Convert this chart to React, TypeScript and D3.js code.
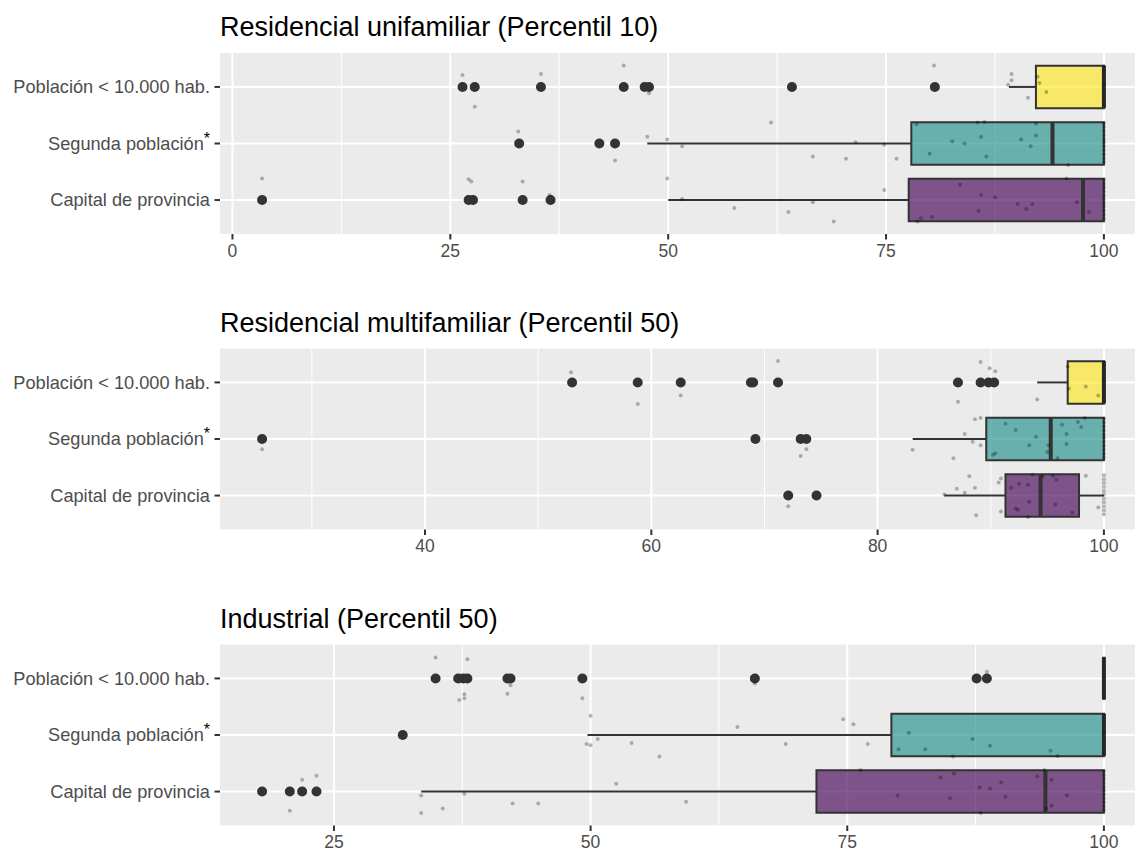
import * as d3 from 'd3';

// categorías (de arriba a abajo) y colores viridis de las cajas
const categories = ['Población < 10.000 hab.', 'Segunda población', 'Capital de provincia'];
const boxColors = ['#FDE725', '#21908C', '#440154'];

const titles = [
  'Residencial unifamiliar (Percentil 10)',
  'Residencial multifamiliar (Percentil 50)',
  'Industrial (Percentil 50)',
];

const ticks1 = [0, 25, 50, 75, 100];
const ticks2 = [40, 60, 80, 100];
const ticks3 = [25, 50, 75, 100];

// [bigote inf, q1, mediana, q3, bigote sup] por categoría
const stats1 = [
  [89.1, 92.2, 100, 100, 100],
  [47.6, 77.9, 94.1, 100, 100],
  [50.0, 77.6, 97.6, 100, 100],
];
const stats2 = [
  [94.1, 96.8, 100, 100, 100],
  [83.1, 89.6, 95.3, 100, 100],
  [85.9, 91.3, 94.4, 97.8, 100],
];
const stats3 = [
  [100, 100, 100, 100, 100],
  [49.7, 79.3, 100, 100, 100],
  [33.5, 72.0, 94.3, 100, 100],
];

// valores atípicos
const outliers1 = [
  [26.4, 27.8, 35.4, 44.9, 47.3, 47.8, 64.2, 80.6],
  [32.9, 42.1, 43.9],
  [3.4, 27.1, 27.6, 33.3, 36.5],
];
const outliers2 = [
  [53.0, 58.8, 62.6, 68.8, 69.0, 71.2, 87.1, 89.1, 89.8, 90.3],
  [25.6, 69.2, 73.2, 73.7],
  [72.1, 74.6],
];
const outliers3 = [
  [34.9, 37.1, 37.6, 38.0, 41.9, 42.2, 49.2, 66.0, 87.6, 88.6],
  [31.7],
  [18.0, 20.7, 21.9, 23.3],
];

// puntos con jitter: [valor, desplazamiento vertical en unidades de categoría]
const jitter1 = [
  [[26.4, -0.21], [27.8, 0.35], [35.4, -0.23], [44.9, -0.38], [47.8, 0.11], [80.5, -0.38], [89.4, -0.23], [89.4, -0.12], [89.0, -0.04], [92.6, -0.07], [92.4, -0.18], [93.4, 0.09], [91.3, 0.19]],
  [[32.8, -0.21], [43.9, 0.3], [47.6, -0.12], [49.9, -0.07], [51.6, 0.05], [61.8, -0.37], [66.6, 0.23], [70.4, 0.27], [71.5, -0.02], [74.8, 0.02], [76.2, 0.27], [78.5, -0.34], [80.0, 0.18], [82.6, -0.04], [84.0, 0.0], [85.5, -0.37], [86.3, -0.38], [85.9, -0.12], [86.5, 0.23], [90.5, -0.07], [91.6, 0.05], [92.2, -0.35], [92.2, -0.14], [95.9, 0.38]],
  [[3.4, -0.38], [27.1, -0.37], [27.4, -0.33], [33.3, -0.33], [36.4, -0.09], [49.9, -0.38], [51.6, -0.02], [57.6, 0.14], [63.8, 0.21], [66.6, 0.04], [69.0, 0.38], [74.8, -0.18], [78.6, 0.38], [79.0, 0.32], [80.3, 0.3], [83.5, -0.27], [85.9, -0.09], [85.6, 0.19], [87.5, -0.05], [90.1, 0.07], [91.1, 0.16], [91.8, 0.07], [95.7, -0.38], [96.9, 0.04], [98.3, 0.21]],
];
const jitter2 = [
  [[52.9, -0.18], [58.8, 0.38], [62.6, 0.23], [71.2, -0.38], [87.1, 0.34], [89.1, -0.36], [89.9, -0.25], [90.4, -0.2], [94.1, 0.3], [96.8, -0.28], [96.9, 0.11], [98.4, 0.07], [99.5, 0.23]],
  [[25.6, 0.18], [73.2, 0.3], [73.7, 0.18], [83.1, 0.19], [86.7, 0.34], [87.7, -0.09], [88.4, 0.05], [88.6, -0.35], [89.1, -0.37], [89.1, 0.11], [90.2, 0.28], [90.4, 0.25], [91.3, -0.27], [92.2, -0.16], [93.4, 0.11], [94.0, -0.04], [95.1, 0.11], [95.0, 0.23], [95.9, 0.34], [96.3, -0.25], [96.7, -0.09], [96.7, 0.09], [97.7, -0.3], [98.0, -0.21], [98.3, -0.37]],
  [[72.1, 0.19], [85.9, -0.02], [87.0, -0.12], [87.7, -0.05], [88.1, -0.34], [88.6, -0.14], [88.7, 0.35], [90.7, -0.23], [90.9, -0.3], [90.9, 0.28], [91.8, -0.14], [92.2, 0.23], [92.4, 0.25], [92.5, -0.21], [93.3, -0.19], [93.4, 0.11], [93.3, 0.38], [93.7, -0.37], [94.6, -0.34], [95.5, -0.35], [95.8, -0.28], [95.7, 0.16], [97.2, 0.3], [98.4, -0.35], [99.5, 0.21]],
];
const jitter3 = [
  [[34.9, -0.37], [38.0, -0.34], [37.7, 0.28], [37.7, 0.35], [37.2, 0.38], [41.9, 0.27], [42.2, 0.12], [49.2, 0.35], [66.0, 0.09], [88.6, -0.12]],
  [[50.0, -0.34], [49.6, 0.16], [50.0, 0.18], [50.7, 0.07], [54.0, 0.14], [56.7, 0.38], [64.3, -0.14], [69.0, 0.16], [74.6, -0.28], [75.6, -0.19], [77.0, 0.16], [80.0, 0.25], [81.0, -0.04], [82.6, 0.25], [85.3, 0.38], [87.2, 0.07], [88.9, 0.19], [94.8, 0.28], [95.5, 0.37]],
  [[20.7, 0.34], [21.9, -0.21], [23.3, -0.28], [33.5, 0.07], [33.5, 0.38], [35.6, 0.3], [37.7, 0.04], [42.4, 0.21], [44.9, 0.21], [52.5, -0.14], [59.3, 0.18], [76.3, -0.38], [79.9, 0.07], [84.1, -0.25], [85.4, -0.32], [85.0, 0.12], [87.9, -0.07], [88.9, -0.05], [90.4, 0.09], [90.0, -0.16], [88.0, 0.38], [93.5, -0.27], [94.2, -0.38], [94.9, -0.21], [94.9, 0.25], [94.4, 0.3], [96.4, 0.07]],
];
// desplazamientos de los puntos apilados en 100
const atHundred = [-0.36, -0.29, -0.22, -0.15, -0.08, -0.02, 0.05, 0.12, 0.19, 0.26, 0.33];

const panels = [
  { title: titles[0], ticks: ticks1, stats: stats1, outliers: outliers1, jitter: jitter1 },
  { title: titles[1], ticks: ticks2, stats: stats2, outliers: outliers2, jitter: jitter2 },
  { title: titles[2], ticks: ticks3, stats: stats3, outliers: outliers3, jitter: jitter3 },
];

const FONT = '"Liberation Sans", Arial, Helvetica, sans-serif';
const LEFT = 220;
const PANEL_W = 926;
const PANEL_H = 181;
const TOPS = [53, 348.5, 644.5];

function Panel({ p, top }) {
  const allVals = [
    ...p.stats.flat(),
    ...p.outliers.flat(),
    ...p.jitter.flat().map(d => d[0]),
  ];
  const [lo, hi] = d3.extent(allVals);
  const pad = (hi - lo) * 0.05;
  const x = d3.scaleLinear().domain([lo - pad, hi + pad]).range([LEFT, LEFT + PANEL_W]);
  const y = d3.scaleLinear().domain([0.4, 3.6]).range([top, top + PANEL_H]);
  const bottom = top + PANEL_H;

  const step = p.ticks[1] - p.ticks[0];
  const minors = [p.ticks[0] - step / 2, ...p.ticks.map(t => t + step / 2)]
    .filter(v => v > x.domain()[0] && v < x.domain()[1]);

  return (
    <g>
      <text x={LEFT} y={top - 17} fontSize={27} fill="#000" fontFamily={FONT}>{p.title}</text>
      <rect x={LEFT} y={top} width={PANEL_W} height={PANEL_H} fill="#EBEBEB" />
      {minors.map(v => (
        <line key={'m' + v} x1={x(v)} x2={x(v)} y1={top} y2={bottom} stroke="#fff" strokeWidth={1} />
      ))}
      {p.ticks.map(v => (
        <line key={'M' + v} x1={x(v)} x2={x(v)} y1={top} y2={bottom} stroke="#fff" strokeWidth={2} />
      ))}
      {categories.map((c, i) => (
        <line key={'h' + i} x1={LEFT} x2={LEFT + PANEL_W} y1={y(i + 1)} y2={y(i + 1)} stroke="#fff" strokeWidth={2} />
      ))}

      {/* cajas */}
      {p.stats.map((s, i) => {
        const [wl, q1, med, q3, wh] = s;
        const cy = y(i + 1);
        const y0 = y(i + 1 - 0.375);
        const y1 = y(i + 1 + 0.375);
        return (
          <g key={'b' + i}>
            <line x1={x(wl)} x2={x(q1)} y1={cy} y2={cy} stroke="#333" strokeWidth={2} />
            <line x1={x(q3)} x2={x(wh)} y1={cy} y2={cy} stroke="#333" strokeWidth={2} />
            <path
              d={`M${x(q1)},${y0}H${x(q3)}V${y1}H${x(q1)}Z`}
              fill={boxColors[i]}
              fillOpacity={0.65}
              stroke="#333"
              strokeWidth={2}
            />
            <line x1={x(med)} x2={x(med)} y1={y0} y2={y1} stroke="#333" strokeWidth={4} />
            {p.outliers[i].map((v, k) => (
              <circle key={k} cx={x(v)} cy={cy} r={5} fill="#333" />
            ))}
          </g>
        );
      })}

      {/* puntos con jitter */}
      {p.jitter.map((pts, i) => (
        <g key={'j' + i}>
          {pts.map(([v, o], k) => (
            <circle key={k} cx={x(v)} cy={y(i + 1 + o)} r={2} fill="#000" fillOpacity={0.28} />
          ))}
          {atHundred.map((o, k) => (
            <circle key={'h' + k} cx={x(100)} cy={y(i + 1 + o)} r={2} fill="#000" fillOpacity={0.28} />
          ))}
        </g>
      ))}

      {/* eje y */}
      {categories.map((c, i) => (
        <g key={'yl' + i}>
          <line x1={LEFT - 5.5} x2={LEFT} y1={y(i + 1)} y2={y(i + 1)} stroke="#333" strokeWidth={2} />
          <text
            x={LEFT - 10}
            y={y(i + 1)}
            dy="0.35em"
            textAnchor="end"
            fontSize={18.2}
            fill="#4D4D4D"
            fontFamily={FONT}
          >
            {c}
            {i === 1 && <tspan dy={-6} fontSize={16} fill="#000">*</tspan>}
          </text>
        </g>
      ))}

      {/* eje x */}
      {p.ticks.map(v => (
        <g key={'xt' + v}>
          <line x1={x(v)} x2={x(v)} y1={bottom} y2={bottom + 5.5} stroke="#333" strokeWidth={2} />
          <text x={x(v)} y={bottom + 22.5} textAnchor="middle" fontSize={17.5} fill="#4D4D4D" fontFamily={FONT}>
            {v}
          </text>
        </g>
      ))}
    </g>
  );
}

export default function App() {
  return (
    <svg
      width={1135}
      height={851}
      style={{ position: 'absolute', left: 0, top: 0, background: '#fff' }}
    >
      <rect width={1135} height={851} fill="#fff" />
      {panels.map((p, i) => (
        <Panel key={i} p={p} top={TOPS[i]} />
      ))}
    </svg>
  );
}
